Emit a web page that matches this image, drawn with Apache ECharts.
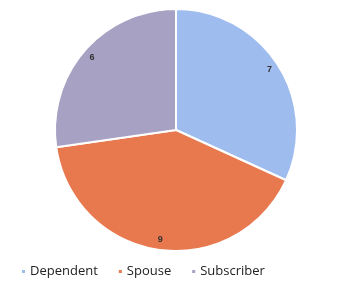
<!DOCTYPE html>
<html>
<head>
<meta charset="utf-8">
<script src="https://cdn.jsdelivr.net/npm/echarts@6/dist/echarts.min.js"></script>
<style>
  html, body { margin: 0; padding: 0; background: #fff; }
  #chart { width: 337px; height: 284px; }
</style>
</head>
<body>
<div id="chart"></div>
<script>
  const categories = ['Dependent', 'Spouse', 'Subscriber'];
  const values = [7, 9, 6];
  const colors = ['#9fbcef', '#e8794f', '#a7a2c3'];

  const pieData = categories.map((name, i) => ({
    name: name,
    value: values[i],
    itemStyle: { color: colors[i] }
  }));

  const chart = echarts.init(document.getElementById('chart'));
  chart.setOption({
    animation: false,
    legend: {
      top: 260,
      left: 15,
      itemWidth: 5,
      itemHeight: 5,
      itemGap: 19,
      icon: 'rect',
      data: categories,
      textStyle: { color: '#222', fontSize: 13, fontFamily: 'Open Sans', padding: [0, 0, 0, -1] }
    },
    series: [
      {
        name: 'main',
        type: 'pie',
        center: [176, 130],
        radius: [0, 121],
        startAngle: 90,
        clockwise: true,
        data: pieData,
        itemStyle: { borderColor: '#fff', borderWidth: 2 },
        label: { show: false },
        labelLine: { show: false },
        silent: true
      },
      {
        // transparent ring used only to put value labels near the rim
        name: 'labels',
        type: 'pie',
        center: [176, 130],
        radius: [95, 121],
        startAngle: 90,
        clockwise: true,
        data: categories.map((name, i) => ({ name: name, value: values[i] })),
        itemStyle: { color: 'rgba(0,0,0,0)' },
        label: {
          show: true,
          position: 'inside',
          formatter: '{c}',
          color: '#333',
          fontSize: 9,
          fontWeight: 'bold'
        },
        labelLine: { show: false },
        legendHoverLink: false,
        silent: true
      }
    ]
  });
</script>
</body>
</html>
